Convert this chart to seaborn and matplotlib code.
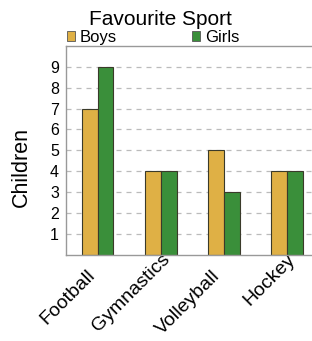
import matplotlib
matplotlib.use("Agg")
import matplotlib.pyplot as plt
import matplotlib.transforms as mtransforms
import seaborn as sns
import pandas as pd
from matplotlib.patches import Patch

categories = ["Football", "Gymnastics", "Volleyball", "Hockey"]
boys = [7, 4, 5, 4]
girls = [9, 4, 3, 4]
series_names = ["Boys", "Girls"]
y_ticks = [1, 2, 3, 4, 5, 6, 7, 8, 9]

df = pd.DataFrame({
    "Sport": categories * 2,
    "Children": boys + girls,
    "Group": [series_names[0]] * len(categories) + [series_names[1]] * len(categories),
})

sns.set_theme(style="white")
plt.rcParams["font.family"] = ["Liberation Sans", "DejaVu Sans"]
for key in ["text.color", "axes.labelcolor", "xtick.color", "ytick.color"]:
    plt.rcParams[key] = "black"

fig = plt.figure(figsize=(3.12, 3.41), dpi=100)
ax = fig.add_axes([66 / 312, 86.3 / 341, 252.8 / 312, 208.7 / 341])

palette = {"Boys": "#DFB045", "Girls": "#3A8F3A"}
sns.barplot(data=df, x="Sport", y="Children", hue="Group", palette=palette,
            width=0.5, edgecolor="#3a3a2a", linewidth=0.8, saturation=1,
            ax=ax, legend=False)

ax.set_xlim(-0.5, 3.5)
ax.set_ylim(0, 10)
ax.set_yticks(y_ticks)
ax.set_yticklabels([str(t) for t in y_ticks], fontsize=11.5)
ax.yaxis.grid(True, linestyle=(0, (4, 4)), color="#bbbbbb", linewidth=0.9)
ax.set_axisbelow(True)
ax.tick_params(axis="y", length=0, pad=5)
ax.tick_params(axis="x", length=0, pad=0)
ax.set_xlabel("")
ax.set_ylabel("Children", fontsize=15.5, va="center")
ax.yaxis.set_label_coords((21 - 66) / 252.8, 0.418)
ax.set_xticks(range(len(categories)))
ax.set_xticklabels(categories, fontsize=14, rotation=45, ha="right",
                   va="baseline", rotation_mode="anchor")
# per-label placement offsets (pixels: right, down) of the rotated labels
label_offsets = [(-2, 21.5), (10, 5.5), (-3.5, 21.5), (8.5, 5.5)]
for lab, (dx, dy) in zip(ax.get_xticklabels(), label_offsets):
    off = mtransforms.ScaledTranslation(dx / 100, -dy / 100, fig.dpi_scale_trans)
    lab.set_transform(lab.get_transform() + off)
for s in ax.spines.values():
    s.set_color("#999999")
    s.set_linewidth(1.0)

fig.text(160 / 312, 1 - 25 / 341, "Favourite Sport", ha="center", va="baseline", fontsize=15)

handles = [Patch(facecolor=palette[n], edgecolor="#555555", linewidth=0.6) for n in series_names]
fig.legend(handles, series_names, loc="center left",
           bbox_to_anchor=(66.5 / 312, 1 - 37.5 / 341), ncol=2, frameon=False,
           fontsize=12, handlelength=0.5, handleheight=0.5, handletextpad=0.28,
           columnspacing=4.5, borderpad=0, borderaxespad=0)

fig.savefig("out.png", dpi=100)
